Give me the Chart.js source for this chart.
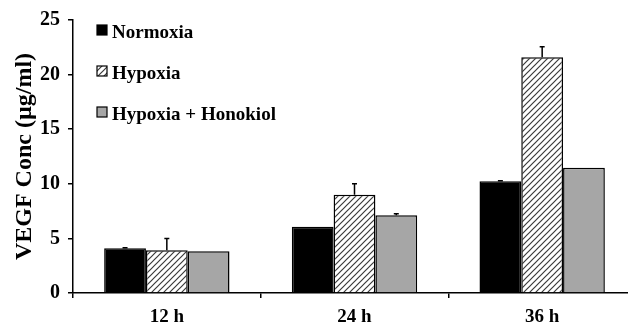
<!DOCTYPE html>
<html><head><meta charset="utf-8">
<script src="https://cdn.jsdelivr.net/npm/chart.js@4"></script>
<style>html,body{margin:0;padding:0;background:#fff;overflow:hidden;width:628px;height:326px}
#wrap{position:relative;width:640px;height:326px}</style></head>
<body><div id="wrap"><canvas id="c" width="640" height="326"></canvas></div>
<script>
const categories = ['12 h', '24 h', '36 h'];
const seriesNames = ['Normoxia', 'Hypoxia', 'Hypoxia + Honokiol'];
const normoxia = [4.1, 6.07, 10.24];
const hypoxia = [3.92, 9.0, 21.6];
const honokiol = [3.83, 7.13, 11.48];
const normoxiaErr = [0.05, 0, 0.05];
const hypoxiaErr = [1.08, 1.0, 0.95];
const honokiolErr = [0, 0.12, 0];
const yTicks = [0, 5, 10, 15, 20, 25];
const yTitle = 'VEGF Conc (µg/ml)';

const FONT = 'Liberation Serif';

function makeHatch() {
  const p = document.createElement('canvas');
  p.width = 6; p.height = 6;
  const g = p.getContext('2d');
  g.fillStyle = '#fff'; g.fillRect(0, 0, 6, 6);
  g.strokeStyle = '#3a3a3a'; g.lineWidth = 1.2;
  g.beginPath();
  g.moveTo(0, 6); g.lineTo(6, 0);
  g.moveTo(-1, 1); g.lineTo(1, -1);
  g.moveTo(5, 7); g.lineTo(7, 5);
  g.stroke();
  return document.getElementById('c').getContext('2d').createPattern(p, 'repeat');
}
const hatch = makeHatch();

const errors = [normoxiaErr, hypoxiaErr, honokiolErr];

const errorBars = {
  id: 'errorBars',
  afterDatasetsDraw(chart) {
    const ctx = chart.ctx;
    const ys = chart.scales.y;
    ctx.save();
    ctx.strokeStyle = '#000';
    ctx.lineWidth = 1.5;
    chart.data.datasets.forEach((ds, i) => {
      const meta = chart.getDatasetMeta(i);
      meta.data.forEach((el, j) => {
        const e = errors[i][j];
        if (!e) return;
        const top = ys.getPixelForValue(ds.data[j] + e);
        ctx.beginPath();
        ctx.moveTo(el.x, el.y);
        ctx.lineTo(el.x, top);
        ctx.moveTo(el.x - 2.5, top);
        ctx.lineTo(el.x + 2.5, top);
        ctx.stroke();
      });
    });
    ctx.restore();
  }
};

const legendPlugin = {
  id: 'insideLegend',
  afterDraw(chart) {
    const ctx = chart.ctx;
    ctx.save();
    ctx.font = 'bold 19px "' + FONT + '"';
    ctx.textBaseline = 'alphabetic';
    ctx.textAlign = 'left';
    chart.data.datasets.forEach((ds, i) => {
      const base = 38 + i * 41;
      const bx = 97, by = base - 13;
      ctx.fillStyle = ds.backgroundColor;
      ctx.fillRect(bx, by, 10, 10);
      ctx.strokeStyle = '#000';
      ctx.lineWidth = 1.2;
      ctx.strokeRect(bx, by, 10, 10);
      ctx.fillStyle = '#000';
      ctx.fillText(ds.label, 112, base);
    });
    ctx.restore();
  }
};

new Chart(document.getElementById('c'), {
  type: 'bar',
  data: {
    labels: categories,
    datasets: [
      { label: seriesNames[0], data: normoxia, backgroundColor: '#000', borderColor: '#000', borderWidth: 1.5 },
      { label: seriesNames[1], data: hypoxia, backgroundColor: hatch, borderColor: '#000', borderWidth: 1.5 },
      { label: seriesNames[2], data: honokiol, backgroundColor: '#a6a6a6', borderColor: '#000', borderWidth: 1.5 }
    ]
  },
  options: {
    responsive: false,
    animation: false,
    devicePixelRatio: 1,
    layout: { padding: { top: 17, right: 4, left: 0, bottom: 0 } },
    datasets: { bar: { categoryPercentage: 0.668, barPercentage: 1.0 } },
    plugins: { legend: { display: false }, tooltip: { enabled: false } },
    scales: {
      x: {
        grid: { display: true, drawOnChartArea: false, drawTicks: true, tickLength: 5, color: '#000', lineWidth: 1.5, offset: true },
        border: { display: true, color: '#000', width: 1.5 },
        ticks: { color: '#000', font: { family: FONT, size: 19, weight: 'bold' }, padding: 8 },
        afterFit(s) { s.height = 33; }
      },
      y: {
        min: 0, max: 25,
        afterBuildTicks(s) { s.ticks = yTicks.map(v => ({ value: v })); },
        grid: { display: true, drawOnChartArea: false, drawTicks: true, tickLength: 5, color: '#000', lineWidth: 1.5 },
        border: { display: true, color: '#000', width: 1.5 },
        ticks: { color: '#000', font: { family: FONT, size: 20, weight: 'bold' }, padding: 8 },
        title: { display: true, text: yTitle, color: '#000', font: { family: FONT, size: 24, weight: 'bold' }, padding: { top: 10, bottom: 0 } },
        afterFit(s) { s.width = 73; }
      }
    }
  },
  plugins: [errorBars, legendPlugin]
});
</script>
</body></html>
